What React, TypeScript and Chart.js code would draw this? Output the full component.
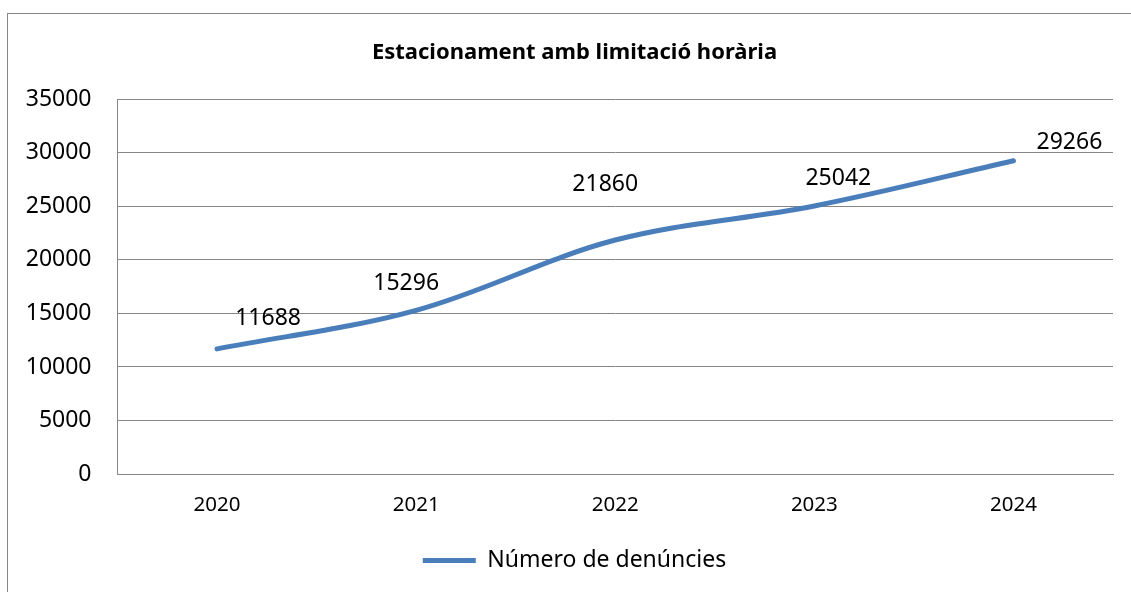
import React, { useEffect, useRef } from "react";
import { Chart, registerables } from "chart.js";

Chart.register(...registerables);

const TITLE = "Estacionament amb limitació horària";
const SERIES_NAME = "Número de denúncies";
const categories = ["2020", "2021", "2022", "2023", "2024"];
const values = [11688, 15296, 21860, 25042, 29266];
const yMin = 0;
const yMax = 35000;
const yStep = 5000;

// label offsets (dx, baseline dy) relative to each point, as placed in the reference
const labelDx = [51, -10, -10, 24, 56];
const labelDy = [-24, -20, -49, -21, -12];

const FONT = "'Noto Sans', 'DejaVu Sans', sans-serif";
const GRID = "#868686";
const LINE = "#4A7EBB";

const frame = {
  id: "frame",
  beforeDraw(chart: any) {
    const ctx = chart.ctx;
    ctx.save();
    ctx.fillStyle = "#ffffff";
    ctx.fillRect(0, 0, chart.width, chart.height);
    ctx.strokeStyle = GRID;
    ctx.lineWidth = 1;
    ctx.strokeRect(7.5, 13.5, chart.width + 20, chart.height + 20);
    ctx.restore();
  },
};

const dataLabels = {
  id: "dataLabels",
  afterDatasetsDraw(chart: any) {
    const ctx = chart.ctx;
    const meta = chart.getDatasetMeta(0);
    ctx.save();
    ctx.font = `23px ${FONT}`;
    ctx.fillStyle = "#000000";
    ctx.textAlign = "center";
    ctx.textBaseline = "alphabetic";
    meta.data.forEach((pt: any, i: number) => {
      ctx.fillText(String(values[i]), pt.x + labelDx[i], pt.y + labelDy[i]);
    });
    ctx.restore();
  },
};

export default function App() {
  const ref = useRef<HTMLCanvasElement>(null);
  useEffect(() => {
    const chart = new Chart(ref.current!, {
      type: "line",
      data: {
        labels: categories,
        datasets: [
          {
            label: SERIES_NAME,
            data: values,
            borderColor: LINE,
            backgroundColor: LINE,
            borderWidth: 5,
            borderCapStyle: "round",
            pointRadius: 0,
            pointHoverRadius: 0,
            tension: 0.35,
            fill: false,
            yAxisID: "y",
          },
        ],
      },
      plugins: [frame, dataLabels],
      options: {
        animation: false,
        responsive: true,
        maintainAspectRatio: false,
        layout: { padding: { left: 18, right: 0, top: 0, bottom: 10 } },
        plugins: {
          title: {
            display: true,
            text: TITLE,
            color: "#000000",
            font: { family: FONT, size: 22, weight: "bold" },
            padding: { top: 40, bottom: 33 },
          },
          legend: {
            display: true,
            position: "bottom",
            labels: {
              usePointStyle: true,
              pointStyle: "line",
              pointStyleWidth: 53,
              boxHeight: 23,
              padding: 10,
              color: "#000000",
              font: { family: FONT, size: 23 },
            },
          },
          tooltip: { enabled: false },
        },
        scales: {
          x: {
            type: "category",
            offset: true,
            grid: { display: false, drawTicks: false },
            border: { display: true, color: GRID, width: 1 },
            ticks: {
              color: "#000000",
              font: { family: FONT, size: 20.5 },
              padding: 19,
              maxRotation: 0,
            },
            afterFit(scale: any) {
              scale.height = 65;
            },
          },
          y: {
            type: "linear",
            position: "left",
            min: yMin,
            max: yMax,
            grid: { display: true, color: GRID, lineWidth: 1, drawTicks: false },
            border: { display: true, color: GRID, width: 1 },
            ticks: {
              stepSize: yStep,
              color: "#000000",
              font: { family: FONT, size: 23 },
              padding: 26,
              callback: (v: any) => String(v),
            },
            afterFit(scale: any) {
              scale.width = 99.5;
            },
          },
          yr: {
            type: "linear",
            position: "right",
            display: true,
            grid: { display: false, drawTicks: false },
            border: { display: false },
            ticks: { display: false },
            afterFit(scale: any) {
              scale.width = 18;
            },
          },
        },
      },
    });
    return () => chart.destroy();
  }, []);
  return (
    <div style={{ position: "fixed", left: 0, top: 0, width: 1131, height: 592, background: "#fff" }}>
      <canvas ref={ref} />
    </div>
  );
}
